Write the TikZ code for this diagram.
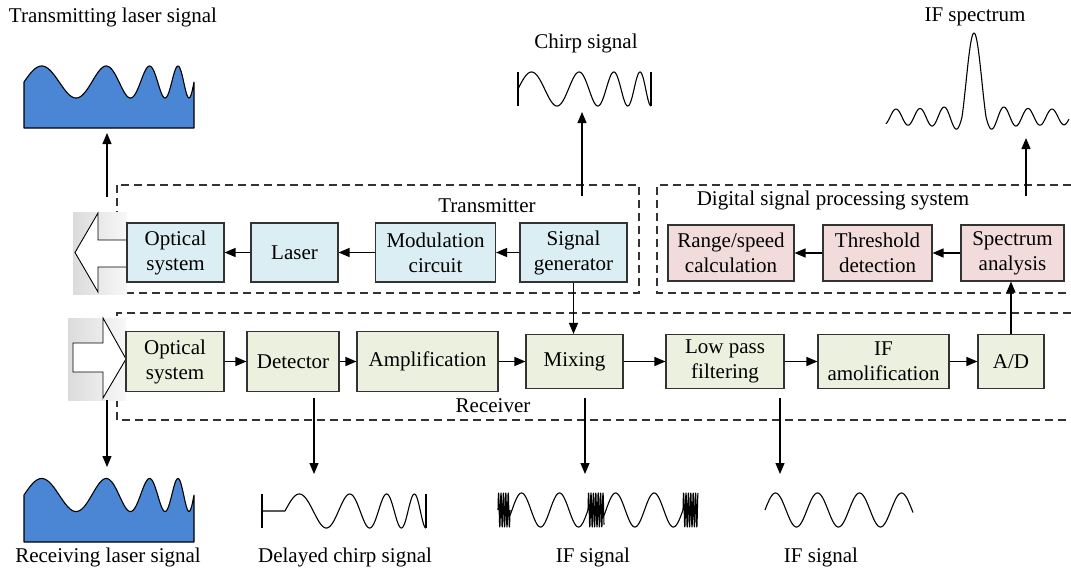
\documentclass[tikz,border=0pt]{standalone}
\usepackage{fontspec}
\setmainfont{Liberation Serif}
\usetikzlibrary{arrows.meta}
\definecolor{tbl}{RGB}{218,238,243}
\definecolor{dpk}{RGB}{242,220,219}
\definecolor{rgn}{RGB}{235,241,222}
\definecolor{wblue}{RGB}{74,134,212}
\begin{document}
\begin{tikzpicture}[x=1pt,y=-1pt,
  declare function={spec(\u)=sin(deg(\u))*ifthenelse(\u<pi,1/\u,0.08+0.3/\u);},
  box/.style={draw=black!80, line width=1.1pt, align=center, inner sep=0pt, font=\fontsize{21}{25}\selectfont},
  tbox/.style={box, fill=tbl, minimum height=59pt},
  dpbox/.style={box, fill=dpk, minimum height=56pt},
  rbox/.style={box, fill=rgn, minimum height=60pt},
  rboxs/.style={box, fill=rgn, minimum height=54pt},
  arr/.style={line width=1.2pt, -{Triangle[length=11pt,width=9pt]}},
  dbox/.style={draw=black!80, line width=1.1pt, dash pattern=on 8pt off 5pt},
  lbl/.style={font=\fontsize{21}{25}\selectfont, inner sep=0pt},
  wave/.style={line width=1.1pt, line join=round},
  bigarrow/.style={fill=white, draw=black, line width=0.9pt, line join=miter}
]
\useasboundingbox (0,0) rectangle (1071,570);

% dashed frames
\draw[dbox] (117,185) rectangle (639,293);
\draw[dbox] (1071,185) -- (657,185) -- (657,293) -- (1071,293);
\draw[dbox] (1071,313) -- (117,313) -- (117,420) -- (1071,420);

% grey backgrounds of the big arrows
\shade[left color=black!14, right color=black!3] (73,212) rectangle (127,294);
\shade[left color=black!14, right color=black!3] (68,318) rectangle (126,400);

% big hollow arrows
\filldraw[bigarrow] (127,240) -- (98,240) -- (98,213) -- (75,252.5) -- (98,292) -- (98,267) -- (127,267) -- cycle;
\filldraw[bigarrow] (73,343) -- (103,343) -- (103,318) -- (126,359) -- (103,398) -- (103,372) -- (73,372) -- cycle;

% frame titles
\node[lbl] (ttx) at (487,206) {Transmitter};
\node[lbl] (dtx) at (833,200) {Digital signal processing system};
\node[lbl] (rtx) at (493,406) {Receiver};

% transmitter
\node[tbox, minimum width=97pt]  (to)   at (175.5,252.5) {Optical\\system};
\node[tbox, minimum width=87pt]  (tlas) at (294.5,252.5) {Laser};
\node[tbox, minimum width=120pt] (tmod) at (435.5,252.5) {Modulation\\circuit};
\node[tbox, minimum width=107pt] (tsig) at (573.5,252.5) {Signal\\generator};

% DSP
\node[dpbox, minimum width=126pt] (drange) at (731,253)    {Range/speed\\calculation};
\node[dpbox, minimum width=109pt] (dthr)   at (877.5,253)  {Threshold\\detection};
\node[dpbox, minimum width=103pt] (dspec)  at (1012.5,253) {Spectrum\\analysis};

% receiver
\node[rbox, minimum width=98pt]    (ro)   at (175,361.5)  {Optical\\system};
\node[rbox, minimum width=92pt]    (rdet) at (293,361.5)  {Detector};
\node[rbox, minimum width=141pt]   (ramp) at (427.5,361.5) {Amplification};
\node[rboxs, minimum width=97pt]   (rmix) at (574.5,361.5)  {Mixing};
\node[rboxs, minimum width=118pt]  (rlpf) at (725,361.5)    {Low pass\\filtering};
\node[rboxs, minimum width=131pt]  (rif)  at (883.5,361.5)  {IF\\amolification};
\node[rboxs, minimum width=66pt]   (rad)  at (1011,361.5)   {A/D};

% chain arrows
\draw[arr] (tsig) -- (tmod);
\draw[arr] (tmod) -- (tlas);
\draw[arr] (tlas) -- (to);
\draw[arr] (dspec) -- (dthr);
\draw[arr] (dthr) -- (drange);
\draw[arr] (ro) -- (rdet);
\draw[arr] (rdet) -- (ramp);
\draw[arr] (ramp) -- (rmix);
\draw[arr] (rmix) -- (rlpf);
\draw[arr] (rlpf) -- (rif);
\draw[arr] (rif) -- (rad);
\draw[arr] (tsig.south) -- (tsig.south |- rmix.north);
\draw[arr] (rad.north) -- (rad.north |- dspec.south);

% waveform anchor points
\coordinate (tout) at (107,197);
\coordinate (wTL) at (107,133);
\coordinate (cTop) at (582,112);
\coordinate (sTop) at (1026,138);
\coordinate (rin) at (107,400);
\coordinate (wRL) at (107,467);
\coordinate (dTop) at (314,474);
\coordinate (iTop) at (585,474);
\coordinate (i2Top) at (780,474);

\draw[arr] (tout) -- (wTL);
\draw[arr, shorten <=26pt] (tsig.north -| cTop) -- (cTop);
\draw[arr, shorten <=28pt] (dspec.north -| sTop) -- (sTop);
\draw[arr] (rin) -- (wRL);
\draw[arr, shorten <=6pt] (rdet.south -| dTop) -- (dTop);
\draw[arr, shorten <=9pt] (rmix.south -| iTop) -- (iTop);
\draw[arr, shorten <=9pt] (rlpf.south -| i2Top) -- (i2Top);

% labels
\node[lbl] (lTL) at (113,17)  {Transmitting laser signal};
\node[lbl] (lCh) at (586,43)  {Chirp signal};
\node[lbl] (lSp) at (975,17)  {IF spectrum};
\node[lbl] (lRL) at (108,557) {Receiving laser signal};
\node[lbl] (lDc) at (345,557) {Delayed chirp signal};
\node[lbl] (lI1) at (593,557) {IF signal};
\node[lbl] (lI2) at (821,557) {IF signal};

% transmitting laser wave
\filldraw[wave, fill=wblue, draw=black] (24,128) -- (24,82) --
  plot[domain=24:194, samples=220] (\x, {82-16*sin(deg(15.1*((\x-24)/170)+10.03*((\x-24)/170)^4))})
  -- (194,128) -- cycle;
% receiving laser wave
\filldraw[wave, fill=wblue, draw=black] (24,542) -- (24,495) --
  plot[domain=24:194, samples=220] (\x, {495-16.5*sin(deg(15.1*((\x-24)/170)+10.03*((\x-24)/170)^4))})
  -- (194,542) -- cycle;

% chirp signal
\draw[wave] (518,72) -- (518,106);
\draw[wave] plot[domain=518:651, samples=260] (\x, {89-17*sin(deg(15.37*((\x-518)/133)+8.18*((\x-518)/133)^3))});
\draw[wave] (651,72) -- (651,106);

% delayed chirp signal
\draw[wave] (262,494) -- (262,528);
\draw[wave] (262,511) -- (285,511) --
  plot[domain=285:426, samples=260] (\x, {511-17*sin(deg(15.37*((\x-285)/141)+8.18*((\x-285)/141)^3))});
\draw[wave] (426,494) -- (426,528);

% IF signal with bursts
\draw[wave] plot[domain=498:510, samples=120] (\x, {510-17*sin(deg(2*pi*(\x-498)/2.4))});
\draw[wave] plot[domain=510:588, samples=160] (\x, {510-17*sin(deg(2*pi*(\x-512)/38))});
\draw[wave] plot[domain=588:604, samples=150] (\x, {510-17*sin(deg(2*pi*(\x-588)/2.4))});
\draw[wave] plot[domain=604:683, samples=160] (\x, {510-17*sin(deg(2*pi*(\x-606)/38.5))});
\draw[wave] plot[domain=683:698, samples=140] (\x, {510-17*sin(deg(2*pi*(\x-683)/2.4))});

% IF signal (filtered)
\draw[wave] plot[domain=765:913, samples=220] (\x, {510-17*sin(deg(2*pi*(\x-765)/42))});

% IF spectrum
\draw[wave] plot[domain=886:1069, samples=360] (\x, {117-84*spec(abs((\x-974.0013)*pi/12))});
\end{tikzpicture}
\end{document}
